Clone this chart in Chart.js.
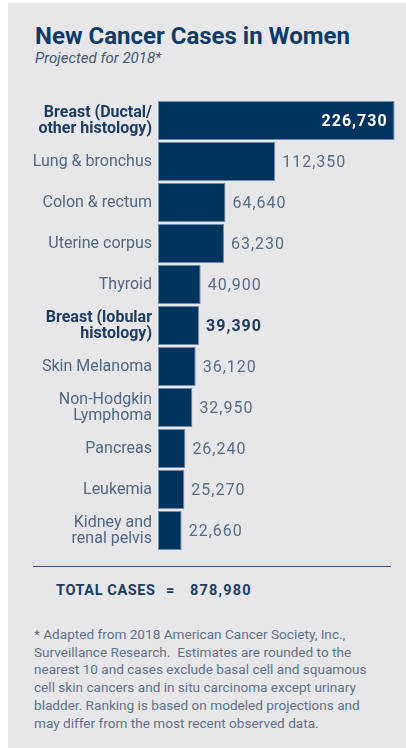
<!DOCTYPE html>
<html>
<head>
<meta charset="utf-8">
<script src="https://cdn.jsdelivr.net/npm/chart.js@4"></script>
<style>
  html, body { margin: 0; padding: 0; background: #fff; }
  body { width: 406px; height: 748px; position: relative; overflow: hidden; font-family: Roboto, sans-serif; }
  #panel { position: absolute; left: 8px; top: 3px; right: 0; bottom: 0; background: #e7e7ea; }
  .abs { position: absolute; white-space: nowrap; }
  #title { left: 35px; top: 24px; font-size: 24px; line-height: 24px; font-weight: bold; color: #0f3b67; }
  #sub { left: 35px; top: 51px; font-size: 15px; line-height: 15px; font-style: italic; color: #3d5775; }
  #wrap { position: absolute; left: 8px; top: 100px; width: 398px; height: 451px; }
  #rule { position: absolute; left: 33px; top: 566px; width: 358px; height: 0; border-top: 1.5px solid #2f5378; }
  .tot { top: 584px; font-size: 14.5px; line-height: 14.5px; font-weight: bold; color: #1a3d63; letter-spacing: 0.6px; }
  #note { left: 34px; top: 626px; font-size: 13.6px; line-height: 17.7px; color: #5f7189; }
</style>
</head>
<body>
<div id="panel"></div>
<div id="title" class="abs">New Cancer Cases in Women</div>
<div id="sub" class="abs">Projected for 2018*</div>
<div id="wrap"><canvas id="chart"></canvas></div>
<div id="rule"></div>
<div class="abs tot" style="left:56px">TOTAL CASES</div>
<div class="abs tot" style="left:166px">=</div>
<div class="abs tot" style="left:190px; letter-spacing: 1.2px">878,980</div>
<div id="note" class="abs">* Adapted from 2018 American Cancer Society, Inc.,<br>Surveillance Research.&nbsp; Estimates are rounded to the<br>nearest 10 and cases exclude basal cell and squamous<br>cell skin cancers and in situ carcinoma except urinary<br>bladder. Ranking is based on modeled projections and<br>may differ from the most recent observed data.</div>

<script>
const sites = [
    ['Breast (Ductal/', 'other histology)'],
    'Lung & bronchus',
    'Colon & rectum',
    'Uterine corpus',
    'Thyroid',
    ['Breast (lobular', 'histology)'],
    'Skin Melanoma',
    ['Non-Hodgkin', 'Lymphoma'],
    'Pancreas',
    'Leukemia',
    ['Kidney and', 'renal pelvis']
];
const cases = [226730, 112350, 64640, 63230, 40900, 39390, 36120, 32950, 26240, 25270, 22660];
const highlighted = [0, 5];

const navy = '#00345f';
const labelColor = '#4f6782';
const boldColor = '#1c3b61';

// numbers next to (or inside) each bar
const valueLabels = {
    id: 'valueLabels',
    afterDatasetsDraw(chart) {
        const ctx = chart.ctx;
        const meta = chart.getDatasetMeta(0);
        ctx.save();
        ctx.textBaseline = 'middle';
        ctx.letterSpacing = '1px';
        meta.data.forEach((bar, i) => {
            const txt = cases[i].toLocaleString('en-US');
            const bold = highlighted.includes(i);
            ctx.font = (bold ? 'bold ' : '') + '16px Roboto';
            if (i === 0) {
                ctx.fillStyle = '#ffffff';
                ctx.textAlign = 'right';
                ctx.fillText(txt, bar.x - 7, bar.y + 1);
            } else {
                ctx.fillStyle = bold ? boldColor : '#566d88';
                ctx.textAlign = 'left';
                ctx.fillText(txt, bar.x + 7, bar.y + 1);
            }
        });
        ctx.restore();
    }
};

new Chart(document.getElementById('chart'), {
    type: 'bar',
    data: {
        labels: sites,
        datasets: [{
            data: cases,
            backgroundColor: navy,
            borderColor: '#6f8bab',
            borderWidth: 1,
            borderSkipped: false,
            barPercentage: 1,
            categoryPercentage: 0.955
        }]
    },
    options: {
        indexAxis: 'y',
        responsive: true,
        maintainAspectRatio: false,
        animation: false,
        layout: { padding: { left: 0, right: 8, top: 0, bottom: 0 } },
        plugins: {
            legend: { display: false },
            tooltip: { enabled: false }
        },
        scales: {
            x: {
                display: false,
                min: 0,
                max: 230000
            },
            y: {
                border: { display: false },
                grid: { display: false, drawTicks: false },
                ticks: {
                    padding: 6,
                    color: ctx => highlighted.includes(ctx.index) ? boldColor : labelColor,
                    font: ctx => ({
                        family: 'Roboto',
                        size: 16,
                        lineHeight: 1.0,
                        weight: highlighted.includes(ctx.index) ? 'bold' : 'normal'
                    })
                },
                afterFit(scale) {
                    scale.width = 150;
                    scale.paddingTop = 0;
                    scale.paddingBottom = 0;
                }
            }
        }
    },
    plugins: [valueLabels]
});
</script>
</body>
</html>
